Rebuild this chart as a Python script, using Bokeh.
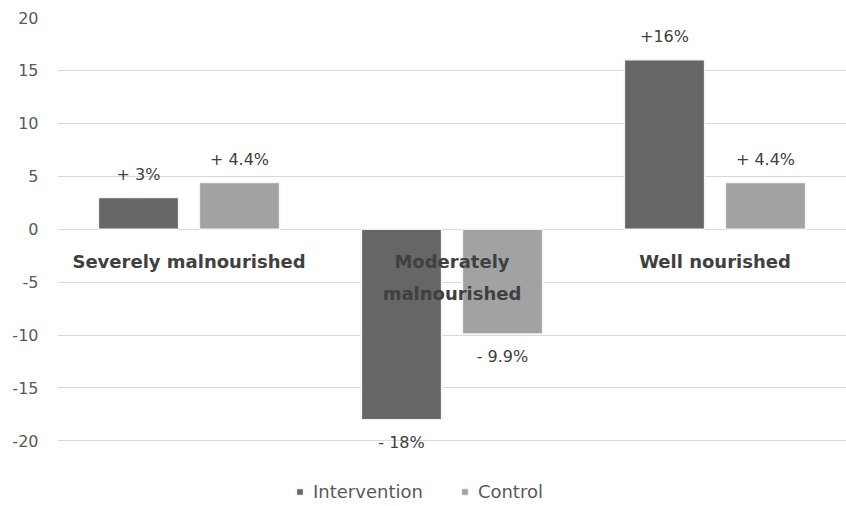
from bokeh.plotting import figure
from bokeh.models import ColumnDataSource, Range1d, FixedTicker, Legend, LegendItem
from bokeh.transform import dodge
from bokeh.core.properties import value
from bokeh.embed import file_html
from bokeh.resources import INLINE

categories = ["Severely malnourished", "Moderately\nmalnourished", "Well nourished"]
intervention = [3, -18, 16]
control = [4.4, -9.9, 4.4]
intervention_labels = ["+ 3%", "- 18%", "+16%"]
control_labels = ["+ 4.4%", "- 9.9%", "+ 4.4%"]
y_ticks = [-20, -15, -10, -5, 0, 5, 10, 15, 20]
y_tick_labels = ["-20", "-15", "-10", "-5", "0", "5", "10", "15", "20"]
series_names = ["Intervention", "Control"]

FONT = "DejaVu Sans"
C_INT = "#666666"
C_CTL = "#a2a2a2"

xs = [i + 0.5 for i in range(len(categories))]
src = ColumnDataSource(dict(
    x=xs, cat=categories, inter=intervention, ctl=control,
    il=intervention_labels, cl=control_labels,
    iy_off=[-23 if v >= 0 else 23 for v in intervention],
    cy_off=[-23 if v >= 0 else 23 for v in control],
    zero=[0] * len(categories),
))

p = figure(width=846, height=506, output_backend="svg", toolbar_location=None,
           x_range=Range1d(0, 3), y_range=Range1d(-26.2, 20),
           min_border_left=57, min_border_top=17, min_border_bottom=0, min_border_right=0)
p.outline_line_color = None
p.xaxis.visible = False
p.xgrid.visible = False
p.ygrid.grid_line_color = "#d9d9d9"
p.ygrid.grid_line_width = 1
p.yaxis.ticker = FixedTicker(ticks=y_ticks)
p.yaxis.major_label_overrides = {t: l for t, l in zip(y_ticks, y_tick_labels)}
p.yaxis.axis_line_color = None
p.yaxis.major_tick_line_color = None
p.yaxis.minor_tick_line_color = None
p.yaxis.major_label_standoff = 13
p.yaxis.major_label_text_font = FONT
p.yaxis.major_label_text_font_size = "16px"
p.yaxis.major_label_text_color = "#595959"

r1 = p.vbar(x=dodge("x", -0.192, range=p.x_range), top="inter", bottom=0, width=0.305,
            source=src, fill_color=C_INT, line_color="#f4f4f4", line_width=1.5)
r2 = p.vbar(x=dodge("x", 0.192, range=p.x_range), top="ctl", bottom=0, width=0.305,
            source=src, fill_color=C_CTL, line_color="#f4f4f4", line_width=1.5)

p.text(x=dodge("x", -0.192, range=p.x_range), y="inter", text="il", y_offset="iy_off",
       source=src, text_align="center", text_baseline="middle",
       text_font=value(FONT), text_font_size="16px", text_color="#404040")
p.text(x=dodge("x", 0.192, range=p.x_range), y="ctl", text="cl", y_offset="cy_off",
       source=src, text_align="center", text_baseline="middle",
       text_font=value(FONT), text_font_size="16px", text_color="#404040")

p.text(x="x", y="zero", text="cat", source=src, text_align="center", text_baseline="top",
       y_offset=22, text_font=value(FONT), text_font_size="18px", text_font_style="bold",
       text_color="#404040", text_line_height=1.53)

legend = Legend(items=[LegendItem(label=series_names[0], renderers=[r1]),
                       LegendItem(label=series_names[1], renderers=[r2])],
                orientation="horizontal", location=(238, 4))
legend.border_line_color = None
legend.background_fill_alpha = 0
legend.label_text_font = FONT
legend.label_text_font_size = "18px"
legend.label_text_color = "#595959"
legend.glyph_width = 9
legend.glyph_height = 9
legend.spacing = 37
legend.label_standoff = 9
legend.padding = 0
legend.margin = 0
p.add_layout(legend)

open("out.html", "w").write(file_html(p, INLINE))
